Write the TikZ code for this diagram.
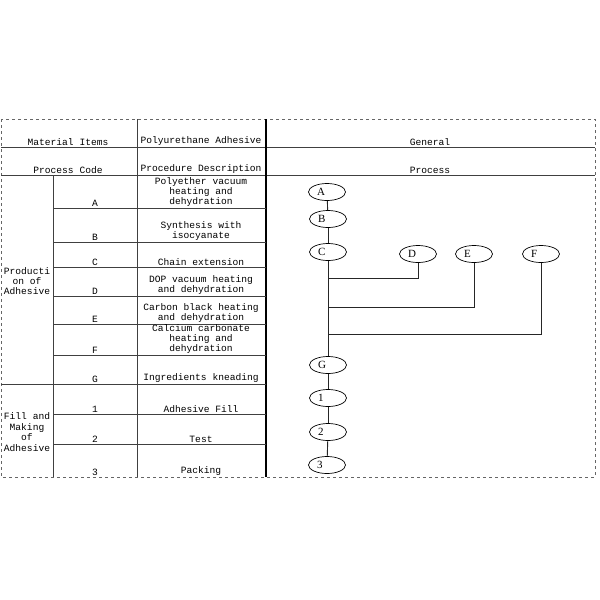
\documentclass[tikz,border=0pt]{standalone}
\usepackage{fontspec}
\setmainfont{Liberation Serif}
\setmonofont{Liberation Mono}
\usetikzlibrary{shapes.geometric}
\begin{document}
\begin{tikzpicture}[x=1pt, y=-1pt,
    grid/.style = {draw=black!75, line width=0.9pt},
    outer/.style = {draw=black!60, dashed, line width=0.7pt},
    cell/.style = {font=\ttfamily\fontsize{9.6}{10.4}\selectfont, align=center, inner sep=1pt, anchor=south},
    group/.style = {font=\ttfamily\fontsize{9.6}{10.4}\selectfont, align=center, inner sep=0pt},
    main/.style = {draw, ellipse, minimum width=37pt, minimum height=17pt, inner sep=0pt, line width=0.7pt, font=\fontsize{11}{11}\selectfont},
    flow/.style = {draw=black!85, line width=0.9pt}]
    \useasboundingbox (0,0) rectangle (600,600);

    % table frame
    \draw[outer] (1,119) rectangle (595,477);
    \draw[grid] (1,147) -- (595,147);
    \draw[grid] (1,175) -- (595,175);
    \draw[grid] (53,175) -- (53,477);
    \draw[grid] (137,119) -- (137,477);
    \draw[line width=1.6pt] (266,119) -- (266,477);
    \foreach \y in {208,242,267,296,324,355,414,444}
        \draw[grid] (53,\y) -- (266,\y);
    \draw[grid] (1,384) -- (266,384);

    % headers
    \node[cell] (hmat) at (68,147) {Material Items};
    \node[cell] (hpu) at (201,147) {Polyurethane Adhesive};
    \node[cell] (hgen) at (430,147) {General};
    \node[cell] (hcode) at (68,175) {Process Code};
    \node[cell] (hdesc) at (201,175) {Procedure Description};
    \node[cell] (hproc) at (430,175) {Process};

    % groups
    \node[group] (gprod) at (27,281) {Producti\\on of\\Adhesive};
    \node[group] (gfill) at (27,432) {Fill and\\Making\\of\\Adhesive};

    % codes
    \foreach \c/\y in {A/208,B/242,C/267,D/296,E/324,F/355,G/384,1/414,2/444,3/477}
        \node[cell] (code\c) at (95,\y) {\c};

    % descriptions
    \node[cell] (dA) at (201,208) {Polyether vacuum\\heating and\\dehydration};
    \node[cell] (dB) at (201,242) {Synthesis with\\isocyanate};
    \node[cell] (dC) at (201,267) {Chain extension};
    \node[cell] (dD) at (201,296) {DOP vacuum heating\\and dehydration};
    \node[cell] (dE) at (201,324) {Carbon black heating\\and dehydration};
    \node[cell] (dF) at (201,355) {Calcium carbonate\\heating and\\dehydration};
    \node[cell] (dG) at (201,384) {Ingredients kneading};
    \node[cell] (d1) at (201,414) {Adhesive Fill};
    \node[cell] (d2) at (201,444) {Test};
    \node[cell] (d3) at (201,477) {Packing};

    % process flow
    \node[main] (A) at (327,192) {\makebox[20pt][l]{A}};
    \node[main] (B) at (328,219) {\makebox[20pt][l]{B}};
    \node[main] (C) at (328,252) {\makebox[20pt][l]{C}};
    \node[main] (D) at (418,254) {\makebox[20pt][l]{D}};
    \node[main] (E) at (474,254) {\makebox[20pt][l]{E}};
    \node[main] (F) at (541,254) {\makebox[20pt][l]{F}};
    \node[main] (G) at (328,365) {\makebox[20pt][l]{G}};
    \node[main] (n1) at (328,398) {\makebox[20pt][l]{1}};
    \node[main] (n2) at (328,432) {\makebox[20pt][l]{2}};
    \node[main] (n3) at (327,465) {\makebox[20pt][l]{3}};

    \coordinate (jD) at (328,278);
    \coordinate (jE) at (328,307);
    \coordinate (jF) at (328,334);

    \draw[flow] (A) -- (B);
    \draw[flow] (B) -- (C);
    \draw[flow] (C) -- (G);
    \draw[flow] (G) -- (n1);
    \draw[flow] (n1) -- (n2);
    \draw[flow] (n2) -- (n3);
    \draw[flow] (D) |- (jD);
    \draw[flow] (E) |- (jE);
    \draw[flow] (F) |- (jF);

\end{tikzpicture}
\end{document}
